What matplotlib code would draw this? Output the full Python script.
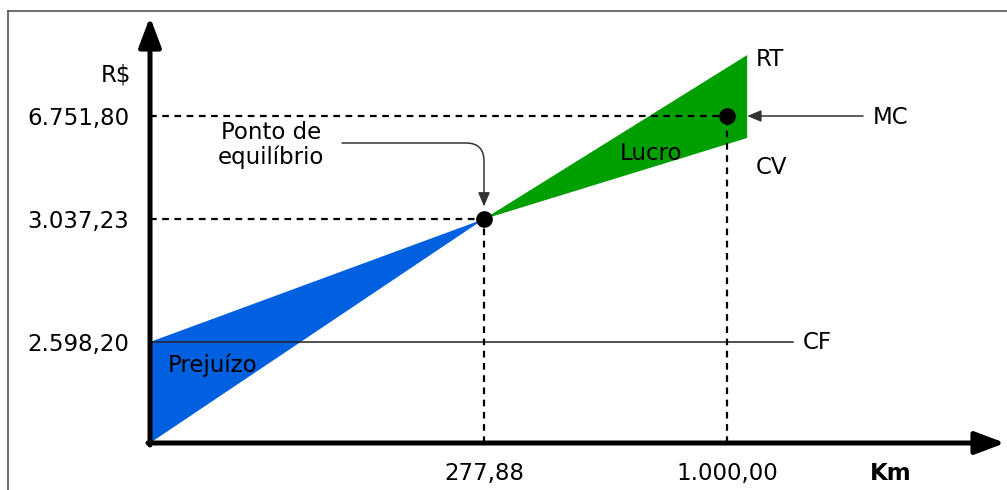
import matplotlib
matplotlib.use("Agg")
import matplotlib.pyplot as plt
from matplotlib.lines import Line2D
import numpy as np

plt.rcParams['font.family'] = ['DejaVu Sans']

# values (R$ and Km)
cf = 2598.20
be_km, be_rs = 277.88, 3037.23
mc_km, mc_rs = 1000.00, 6751.80
km_end = 1060.0
rt_end = 8950.0
cv_end = 5960.0
cf_line_end = 1196.0
km_ticks = [277.88, 1000.00]
rs_ticks = [2598.20, 3037.23, 6751.80]

# schematic axes: value -> pixel offset knots
x_knots = ([0, 277.88, 1000.0], [0, 334, 577])
y_knots = ([0, 2598.20, 3037.23, 6751.80], [0, 101, 224, 327])

W, H = 1007, 490
BLUE = "#0060e0"
GREEN = "#009f00"
FS = 16.5


def piecewise(src, dst):
    src = np.asarray(src, float)
    dst = np.asarray(dst, float)
    lo = (dst[1] - dst[0]) / (src[1] - src[0])
    hi = (dst[-1] - dst[-2]) / (src[-1] - src[-2])

    def f(v):
        v = np.asarray(v, float)
        out = np.interp(v, src, dst)
        out = np.where(v < src[0], dst[0] + (v - src[0]) * lo, out)
        out = np.where(v > src[-1], dst[-1] + (v - src[-1]) * hi, out)
        return out
    return f


def fmt_br(v):
    return f"{v:,.2f}".replace(",", "X").replace(".", ",").replace("X", ".")


x_fwd, x_inv = piecewise(*x_knots), piecewise(x_knots[1], x_knots[0])
y_fwd, y_inv = piecewise(*y_knots), piecewise(y_knots[1], y_knots[0])

fig = plt.figure(figsize=(W / 100, H / 100), dpi=100)
ax = fig.add_axes([150 / W, (H - 443) / H, 855 / W, 426 / H])
ax.set_xscale('function', functions=(x_fwd, x_inv))
ax.set_yscale('function', functions=(y_fwd, y_inv))
ax.set_xlim(0, float(x_inv(855)))
ax.set_ylim(0, float(y_inv(426)))
for s in ax.spines.values():
    s.set_visible(False)

# loss and profit areas
ax.fill([0, 0, be_km], [0, cf, be_rs], color=BLUE, lw=0, zorder=1)
ax.fill([be_km, km_end, km_end], [be_rs, rt_end, cv_end], color=GREEN, lw=0, zorder=1)

# fixed cost
ax.plot([0, cf_line_end], [cf, cf], color="#222222", lw=1.1, zorder=2)

# guide lines
dash = dict(color="black", lw=1.6, linestyle=(0, (3, 2.5)), zorder=3)
ax.plot([0, mc_km], [mc_rs, mc_rs], **dash)
ax.plot([mc_km, mc_km], [0, mc_rs], **dash)
ax.plot([0, be_km], [be_rs, be_rs], **dash)
ax.plot([be_km, be_km], [0, be_rs], **dash)

ax.plot([be_km, mc_km], [be_rs, mc_rs], 'o', color="black", ms=11, zorder=5)

# axes with arrow heads
axis_arrow = dict(arrowstyle="-|>,head_length=0.9,head_width=0.34", lw=3.6,
                  color="black", mutation_scale=20, shrinkA=0, shrinkB=0)
ax.annotate("", xy=(1.0, 0), xytext=(-2 / 855, 0), xycoords="axes fraction",
            arrowprops=axis_arrow, annotation_clip=False, zorder=6)
ax.annotate("", xy=(0, 1.0), xytext=(0, -2 / 426), xycoords="axes fraction",
            arrowprops=axis_arrow, annotation_clip=False, zorder=6)

# pointers
ax.annotate("", xy=(km_end, mc_rs), xytext=(863, H - 116), textcoords="figure pixels",
            arrowprops=dict(arrowstyle="-|>,head_length=0.6,head_width=0.25", lw=1.1,
                            color="#333333", mutation_scale=14, shrinkA=0, shrinkB=0),
            annotation_clip=False)
ax.annotate("", xy=(be_km, be_rs), xytext=(342, H - 143), textcoords="figure pixels",
            arrowprops=dict(arrowstyle="-|>,head_length=0.6,head_width=0.25", lw=1.1,
                            color="#333333", mutation_scale=14, shrinkA=0, shrinkB=9,
                            connectionstyle="angle,angleA=0,angleB=90,rad=18"),
            annotation_clip=False)

ax.set_xticks(km_ticks, [fmt_br(v) for v in km_ticks])
ax.set_yticks(rs_ticks, [fmt_br(v) for v in rs_ticks])
ax.xaxis.set_minor_locator(matplotlib.ticker.NullLocator())
ax.yaxis.set_minor_locator(matplotlib.ticker.NullLocator())
ax.tick_params(axis='both', length=0, labelsize=FS)
ax.tick_params(axis='x', pad=14)
ax.tick_params(axis='y', pad=15)


def label(x, y, s, ha="left", **kw):
    fig.text(x / W, 1 - y / H, s, ha=ha, va="center", fontsize=FS, **kw)


label(131, 75, "R$", ha="right")
label(891, 473, "Km", ha="center", fontweight="bold")
label(756, 59, "RT")
label(873, 117, "MC")
label(756, 167, "CV")
label(620, 153, "Lucro")
label(803, 342, "CF")
label(168, 365, "Prejuízo")
label(271, 145, "Ponto de\nequilíbrio", ha="center", linespacing=1.1)

# border
fig.add_artist(Line2D([8 / W, 1], [1 - 11 / H, 1 - 11 / H], color="#555555", lw=1.2))
fig.add_artist(Line2D([8 / W, 8 / W], [0, 1 - 11 / H], color="#555555", lw=1.2))

fig.savefig("out.png", dpi=100)
